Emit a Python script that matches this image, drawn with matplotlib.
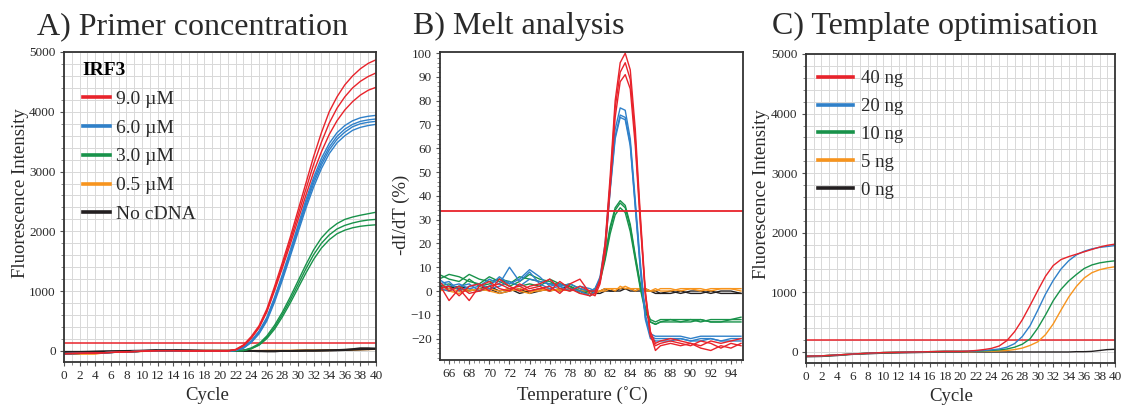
import matplotlib.pyplot as plt
from matplotlib.ticker import MultipleLocator

plt.rcParams['font.family'] = ['Liberation Serif', 'DejaVu Serif']

RED = '#e8232b'
BLUE = '#2f80c9'
GREEN = '#18924a'
ORANGE = '#f7941d'
BLACK = '#231f20'
TXT = '#2a2a2a'

# ---------- A) Primer concentration (IRF3) ----------
cycle_early = [0, 2, 4, 6, 8, 10, 12, 14, 16, 18, 20]
cycle_late = list(range(21, 41))
base_a = [-45, -40, -35, -25, -15, -5, 5, 5, 0, 0, 0]

red_a = [
    [0, 25, 100, 240, 420, 700, 1080, 1480, 1900, 2350, 2800, 3250, 3650, 4000, 4250, 4450, 4600, 4720, 4810, 4870],
    [0, 20, 90, 220, 400, 670, 1040, 1430, 1840, 2270, 2700, 3120, 3490, 3810, 4060, 4250, 4400, 4510, 4590, 4650],
    [0, 18, 85, 210, 385, 650, 1010, 1390, 1780, 2190, 2600, 2990, 3330, 3620, 3850, 4030, 4170, 4280, 4360, 4410],
]
blue_a = [
    [0, 12, 60, 170, 330, 560, 900, 1280, 1680, 2100, 2520, 2900, 3220, 3470, 3650, 3770, 3850, 3900, 3925, 3940],
    [0, 10, 55, 160, 315, 540, 875, 1250, 1650, 2060, 2470, 2850, 3160, 3410, 3590, 3710, 3790, 3840, 3865, 3880],
    [0, 9, 50, 150, 300, 520, 850, 1220, 1620, 2030, 2430, 2800, 3110, 3360, 3540, 3660, 3750, 3800, 3825, 3840],
    [0, 8, 45, 140, 285, 500, 820, 1185, 1580, 1980, 2380, 2740, 3050, 3300, 3480, 3600, 3690, 3740, 3770, 3790],
]
green_a = [
    [0, 3, 10, 50, 120, 250, 430, 650, 900, 1170, 1440, 1690, 1890, 2030, 2130, 2200, 2240, 2270, 2295, 2320],
    [0, 2, 8, 40, 105, 225, 395, 610, 850, 1110, 1370, 1610, 1800, 1940, 2040, 2100, 2140, 2170, 2190, 2200],
    [0, 2, 6, 35, 95, 205, 365, 570, 800, 1050, 1300, 1530, 1720, 1860, 1960, 2020, 2060, 2085, 2100, 2110],
]
orange_a_early = [
    [-50, -50, -50, -15, -10, -5, 0, 0, 0, 5, 5],
    [-40, -45, -40, -20, -10, -5, 5, 5, 5, 5, 5],
]
orange_a_late = [
    [5, 5, 5, 5, 5, 5, 5, 5, 5, 10, 10, 10, 10, 10, 15, 15, 20, 25, 30, 30],
    [5, 5, 5, 0, 0, 5, 5, 5, 5, 5, 10, 10, 10, 15, 15, 20, 20, 25, 25, 30],
]
black_a_early = [
    [-15, -15, -10, -5, 0, 5, 15, 15, 10, 5, 5],
    [-25, -20, -15, -10, -5, 0, 5, 5, 5, 0, 0],
]
black_a_late = [
    [5, 5, 5, 0, 0, -5, -5, 0, 0, 5, 5, 5, 10, 10, 15, 20, 30, 45, 45, 40],
    [0, 0, 0, 0, -5, -5, -5, 0, 0, 0, 5, 5, 5, 10, 10, 15, 20, 25, 30, 35],
]
labels_a = ['9.0 µM', '6.0 µM', '3.0 µM', '0.5 µM', 'No cDNA']
threshold_a = 140

# ---------- B) Melt analysis ----------
temps = [65, 66, 67, 68, 69, 70, 71, 72, 73, 74, 75, 76, 77, 78, 79, 80,
         80.5, 81, 81.5, 82, 82.5, 83, 83.5, 84, 84.5, 85, 85.5, 86, 86.5, 87,
         88, 89, 90, 91, 92, 93, 94, 95]
red_b = [
    [3, -4, 1, -4, 2, 4, 1, 0, 3, 1, 2, 0, 4, 1, -1, -2,
     -1, 5, 20, 48, 80, 96, 100, 93, 68, 32, 0, -18, -25, -23,
     -22, -23, -22, -24, -25, -23, -24, -22],
    [1, 2, -2, 2, 3, 0, 5, 2, 0, 2, 3, 5, 1, 0, 2, 0,
     0, 4, 18, 45, 77, 92, 96, 89, 64, 30, -2, -19, -23, -22,
     -21, -22, -23, -21, -22, -24, -22, -23],
    [4, 0, 2, -1, 0, 2, 3, 1, 2, 0, 1, 2, -1, 3, 5, -1,
     -2, 3, 16, 43, 73, 88, 91, 85, 61, 28, -1, -17, -22, -21,
     -20, -21, -22, -23, -21, -22, -21, -20],
]
blue_b = [
    [5, 2, 3, 1, 2, 5, 3, 10, 4, 8, 3, 1, 2, 3, 1, 0,
     1, 6, 20, 45, 68, 77, 76, 64, 38, 12, -10, -18, -19, -19,
     -19, -19, -20, -19, -19, -19, -19, -19],
    [3, 4, 0, 2, 3, 1, 2, 4, 2, 5, 4, 3, 2, 0, 2, 1,
     0, 5, 18, 43, 65, 74, 73, 62, 36, 10, -11, -19, -20, -20,
     -20, -20, -21, -20, -20, -21, -20, -20],
    [1, 0, 2, 3, 0, 2, 6, 3, 5, 9, 6, 2, 3, 1, 0, -2,
     0, 5, 17, 42, 64, 73, 72, 61, 35, 9, -12, -20, -21, -21,
     -21, -20, -21, -21, -20, -21, -21, -21],
]
green_b = [
    [7, 5, 4, 7, 5, 4, 5, 3, 6, 5, 4, 3, 3, 2, 0, -2,
     0, 5, 15, 27, 35, 38, 36, 28, 15, 3, -7, -12, -13, -12,
     -12, -12, -12, -13, -12, -12, -12, -11],
    [5, 7, 6, 4, 3, 6, 4, 2, 4, 7, 5, 4, 2, 3, 1, 0,
     1, 5, 14, 26, 34, 37, 35, 27, 14, 2, -8, -13, -14, -13,
     -12, -13, -12, -12, -13, -13, -12, -12],
    [2, 3, 1, 5, 2, 3, 5, 4, 2, 3, 2, 5, 3, 2, -1, 0,
     0, 4, 13, 24, 32, 35, 33, 25, 13, 1, -9, -13, -14, -13,
     -13, -13, -13, -12, -13, -13, -13, -13],
]
orange_b = [
    [0, 1, 0, 0, 1, 0, -1, 0, 1, 0, 0, 1, 0, 1, 0, 0,
     0, 0, 1, 1, 1, 1, 2, 1, 1, 1, 0, 0, 1, 0,
     0, 1, 1, 0, 1, 1, 1, 1],
    [1, 0, -1, 1, 0, 1, 0, 1, 0, -1, 1, 0, 1, 0, 1, -1,
     -1, 0, 0, 1, 0, 2, 1, 1, 0, 1, 1, 0, 0, 1,
     1, 0, 1, 1, 0, 1, 1, 0],
]
black_b = [
    [2, 1, 2, 1, 0, 1, -1, 0, 1, -1, 0, 1, 0, 1, 0, -1,
     -1, -1, 0, 0, 0, 0, 1, 0, 0, 0, 1, 0, -1, -1,
     -1, 0, -1, -1, 0, -1, -1, -1],
    [1, 2, 1, 0, 1, 2, 0, 1, -1, 0, 1, 0, 1, 2, 0, 0,
     -1, 0, 1, 0, 0, 1, 1, 1, 0, 1, 0, 0, 0, -1,
     0, -1, 0, 0, -1, 0, 0, -1],
]
threshold_b = 33.5

# ---------- C) Template optimisation ----------
base_c = [-70, -65, -50, -35, -20, -10, -5, 0, 5, 10, 10]
red_c = [15, 25, 40, 60, 100, 190, 340, 540, 780, 1030, 1270, 1450, 1550, 1600, 1640, 1680, 1720, 1760, 1790, 1810]
blue_c = [12, 18, 25, 35, 50, 80, 140, 260, 440, 700, 970, 1200, 1390, 1530, 1630, 1690, 1730, 1755, 1770, 1785]
green_c = [10, 14, 18, 25, 35, 50, 80, 130, 220, 400, 620, 860, 1050, 1190, 1300, 1400, 1460, 1495, 1515, 1530]
orange_c = [5, 8, 10, 12, 18, 25, 40, 65, 110, 170, 290, 470, 700, 920, 1100, 1240, 1330, 1380, 1410, 1430]
black_c_early = [-80, -75, -60, -40, -30, -20, -15, -10, -5, 0, 0]
black_c_late = [0, 0, 0, 0, 0, 0, 0, 0, 0, 0, 0, 0, 0, 0, 5, 5, 10, 25, 40, 45]
labels_c = ['40 ng', '20 ng', '10 ng', '5 ng', '0 ng']
threshold_c = 195

cycles = cycle_early + cycle_late

fig = plt.figure(figsize=(11.3, 4.12), dpi=100)
W, H = 1130, 412


def box(l, t, r, b):
    return [l / W, 1 - b / H, (r - l) / W, (b - t) / H]


def style(ax):
    for s in ax.spines.values():
        s.set_color('#333333')
        s.set_linewidth(1.3)
    ax.tick_params(which='major', direction='out', length=3, width=0.8,
                   color='#555555', labelsize=9.5, labelcolor=TXT, pad=3)
    ax.tick_params(which='minor', direction='out', length=2, width=0.6, color='#777777')


def amp_axes(ax):
    ax.set_xlim(0, 40)
    ax.set_ylim(-185, 5000)
    ax.xaxis.set_major_locator(MultipleLocator(2))
    ax.xaxis.set_minor_locator(MultipleLocator(1))
    ax.yaxis.set_major_locator(MultipleLocator(1000))
    ax.yaxis.set_minor_locator(MultipleLocator(200))
    ax.grid(which='both', color='#d8d8d8', lw=0.7)
    ax.set_axisbelow(True)
    style(ax)
    ax.set_xlabel('Cycle', fontsize=13.5, color=TXT)
    ax.set_ylabel('Fluorescence Intensity', fontsize=13.5, color=TXT)


# A
axA = fig.add_axes(box(64, 52, 376, 362))
amp_axes(axA)
axA.axhline(threshold_a, color=RED, lw=1.1)
for e, l in zip(orange_a_early, orange_a_late):
    axA.plot(cycles, e + l, color=ORANGE, lw=1.2)
for e, l in zip(black_a_early, black_a_late):
    axA.plot(cycles, e + l, color=BLACK, lw=1.4)
for group, c in [(green_a, GREEN), (blue_a, BLUE), (red_a, RED)]:
    for y in group:
        axA.plot(cycles, base_a + y, color=c, lw=1.0)
handles = [plt.Line2D([], [], color=c, lw=2.6) for c in [RED, BLUE, GREEN, ORANGE, BLACK]]
legA = axA.legend(handles, labels_a, title='IRF3', loc='upper left', bbox_to_anchor=(0.004, 1.025),
                  frameon=False, fontsize=14, handlelength=1.4, handletextpad=0.3,
                  labelspacing=0.58, alignment='left',
                  title_fontproperties={'weight': 'bold', 'size': 14})
for t in legA.get_texts():
    t.set_color(TXT)
axA.yaxis.set_label_coords(-0.112, 0.545)
axA.xaxis.set_label_coords(0.46, -0.08)

# B
axB = fig.add_axes(box(440, 52, 743, 360))
axB.set_xlim(65.1, 95.2)
axB.set_ylim(-29, 100.5)
axB.xaxis.set_major_locator(MultipleLocator(2))
axB.xaxis.set_minor_locator(MultipleLocator(0.5))
axB.yaxis.set_major_locator(MultipleLocator(10))
axB.yaxis.set_minor_locator(MultipleLocator(2))
style(axB)
for y in black_b:
    axB.plot(temps, y, color=BLACK, lw=1.0)
for y in orange_b:
    axB.plot(temps, y, color=ORANGE, lw=1.0)
for group, c in [(green_b, GREEN), (blue_b, BLUE), (red_b, RED)]:
    for y in group:
        axB.plot(temps, y, color=c, lw=1.0)
axB.axhline(threshold_b, color=RED, lw=1.3)
axB.set_xlabel('Temperature (˚C)', fontsize=13.5, color=TXT)
axB.set_ylabel('-dI/dT (%)', fontsize=13.5, color=TXT)
axB.yaxis.set_label_coords(-0.1, 0.47)
axB.xaxis.set_label_coords(0.47, -0.085)

# C
axC = fig.add_axes(box(806, 54, 1115, 363))
amp_axes(axC)
axC.axhline(threshold_c, color=RED, lw=1.1)
axC.plot(cycles, black_c_early + black_c_late, color=BLACK, lw=1.0)
for y, c in [(orange_c, ORANGE), (green_c, GREEN), (blue_c, BLUE), (red_c, RED)]:
    axC.plot(cycles, base_c + y, color=c, lw=1.0)
handles = [plt.Line2D([], [], color=c, lw=2.6) for c in [RED, BLUE, GREEN, ORANGE, BLACK]]
legC = axC.legend(handles, labels_c, loc='upper left', bbox_to_anchor=(-0.016, 1.002),
                  frameon=False, fontsize=13.5, handlelength=1.87, handletextpad=0.43,
                  labelspacing=0.57)
for t in legC.get_texts():
    t.set_color(TXT)
axC.yaxis.set_label_coords(-0.117, 0.545)
axC.xaxis.set_label_coords(0.47, -0.08)

# panel titles
fig.text(37 / W, 1 - 34 / H, 'A) Primer concentration', fontsize=23, color=TXT, va='baseline')
fig.text(413 / W, 1 - 34 / H, 'B) Melt analysis', fontsize=23, color=TXT, va='baseline')
fig.text(772 / W, 1 - 34 / H, 'C) Template optimisation', fontsize=23, color=TXT, va='baseline')

fig.savefig('out.png', dpi=100)
